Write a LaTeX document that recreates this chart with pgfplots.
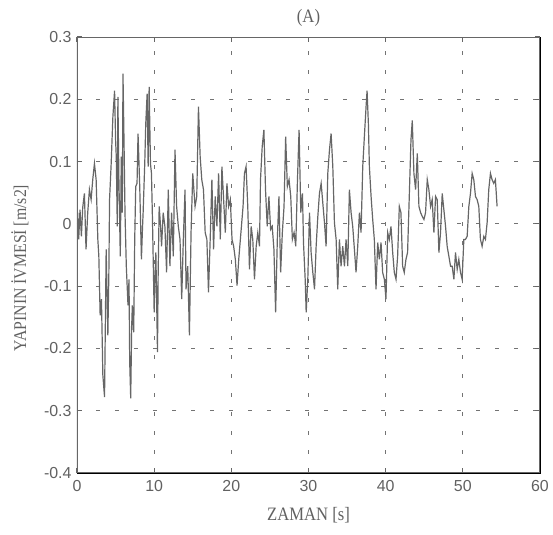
\documentclass[border=0pt]{standalone}
\usepackage{fontspec}
\setmainfont{Liberation Sans}
\newfontfamily\lblfont[FakeStretch=0.88]{Liberation Serif}
\usepackage{pgfplots}
\pgfplotsset{compat=1.18}
\definecolor{sig}{gray}{0.40}
\definecolor{txt}{gray}{0.38}
\definecolor{frame}{gray}{0.40}
\begin{document}
\begin{tikzpicture}
\useasboundingbox (-77bp,-62bp) rectangle (476bp,473bp);
\begin{axis}[
  at={(0,0)}, anchor=south west,
  scale only axis, width=463bp, height=436bp,
  xmin=0, xmax=60, ymin=-0.4, ymax=0.3,
  xtick={0,10,...,60},
  ytick={-0.4,-0.3,-0.2,-0.1,0,0.1,0.2,0.3},
  yticklabels={-0.4,-0.3,-0.2,-0.1,0,0.1,0.2,0.3},
  /pgf/number format/assume math mode=true,
  tick label style={font=\fontsize{16}{18}\selectfont, text=txt},
  xticklabel style={yshift=-4bp},
  yticklabel style={xshift=-2bp},
  tick align=inside, major tick length=5bp,
  tick style={frame, line width=1.2bp},
  grid=major,
  major grid style={black!55, line width=0.8bp, dash pattern=on 4bp off 15bp},
  title={(A)},
  title style={at={(axis description cs:0.5,1)}, anchor=center, yshift=13bp, font=\lblfont\fontsize{19}{21}\selectfont, text=txt},
  xlabel={ZAMAN [s]},
  xlabel style={at={(axis description cs:0.5,0)}, anchor=center, yshift=-42bp, font=\lblfont\fontsize{19}{21}\selectfont, text=txt},
  ylabel={YAPININ İVMESİ [m/s2]},
  ylabel style={at={(axis description cs:-0.123,0.47)}, anchor=center, rotate=0, font=\lblfont\fontsize{18}{20}\selectfont, text=txt},
]
\addplot[sig, line width=1.2bp] coordinates {
(0.09,0.018) (0.22,-0.025) (0.39,0.023) (0.57,-0.02) (0.74,0.026) (0.96,0.049) (1.17,-0.041) (1.39,0.018) (1.61,0.055) (1.83,0.039)
(2.04,0.071) (2.26,0.097) (2.48,0.071) (2.70,-0.025) (2.83,-0.052) (3.0,-0.147) (3.17,-0.121) (3.35,-0.243) (3.57,-0.278) (3.70,-0.131)
(3.78,-0.041) (4.0,-0.179) (4.13,-0.078) (4.22,0.039) (4.43,0.097) (4.65,0.172) (4.87,0.214) (5.0,0.135) (5.09,0.108) (5.22,-0.004)
(5.30,0.204) (5.43,0.071) (5.61,-0.052) (5.74,0.108) (5.87,0.018) (5.96,0.241) (6.09,0.135) (6.22,0.018) (6.39,-0.068) (6.61,-0.131)
(6.74,-0.089) (6.83,-0.222) (6.96,-0.280) (7.09,-0.163) (7.17,-0.131) (7.35,-0.174) (7.48,-0.025) (7.61,0.060) (7.78,0.065) (7.91,0.145)
(8.13,0.060) (8.35,-0.057) (8.48,-0.009) (8.57,0.018) (8.78,0.097) (8.91,0.161) (9.09,0.209) (9.22,0.092) (9.35,0.220) (9.52,0.097)
(9.65,0.081) (9.78,0.007) (10.0,-0.142) (10.13,-0.078) (10.22,-0.046) (10.43,-0.206) (10.52,-0.078) (10.65,0.028) (10.83,-0.004) (10.96,-0.036)
(11.17,0.018) (11.39,-0.004) (11.61,-0.078) (11.83,0.055) (12.04,-0.068) (12.26,0.018) (12.48,-0.052) (12.70,0.119) (12.91,0.028) (13.13,-0.004)
(13.35,-0.025) (13.57,-0.121) (13.78,-0.025) (14.0,0.055) (14.13,-0.105) (14.35,-0.068) (14.57,-0.179) (14.78,-0.014) (15.0,0.081) (15.30,0.028)
(15.52,0.044) (15.74,0.188) (15.96,0.108) (16.17,0.071) (16.39,0.055) (16.61,-0.014) (16.83,-0.025) (17.04,-0.110) (17.26,-0.025) (17.48,0.071)
(17.70,-0.041) (17.91,0.044) (18.13,-0.004) (18.35,0.081) (18.57,-0.025) (18.78,0.092) (19.0,0.039) (19.22,-0.014) (19.43,0.065) (19.65,0.028)
(19.87,0.039) (20.09,-0.025) (20.30,-0.036) (20.52,-0.057) (20.74,-0.099) (20.96,-0.057) (21.17,-0.025) (21.52,0.028) (21.70,0.081) (21.91,0.092)
(22.13,0.028) (22.35,-0.073) (22.57,-0.004) (22.78,-0.025) (23.0,-0.089) (23.22,-0.036) (23.43,-0.014) (23.65,-0.036) (23.78,0.071) (24.0,0.124)
(24.22,0.151) (24.43,0.055) (24.65,-0.004) (24.87,0.044) (25.09,-0.009) (25.30,-0.004) (25.52,-0.041) (25.74,-0.142) (25.96,-0.025) (26.17,0.044)
(26.39,-0.078) (26.61,-0.014) (26.83,0.028) (27.04,0.140) (27.26,0.060) (27.48,0.071) (27.70,0.044) (27.91,-0.025) (28.13,-0.014) (28.35,-0.036)
(28.57,0.071) (28.78,0.151) (29.0,0.018) (29.22,0.049) (29.35,-0.030) (29.57,-0.089) (29.70,-0.142) (29.91,-0.089) (30.13,0.018) (30.34,-0.046)
(30.56,-0.078) (30.78,-0.105) (30.99,-0.036) (31.21,0.012) (31.42,0.049) (31.64,0.065) (31.85,0.034) (32.07,0.002) (32.28,-0.036) (32.50,0.081)
(32.72,0.119) (32.93,0.145) (33.15,0.092) (33.36,0.002) (33.58,-0.025) (33.79,-0.105) (34.01,-0.025) (34.22,-0.068) (34.44,-0.036) (34.66,-0.068)
(34.87,-0.025) (35.09,-0.068) (35.30,0.055) (35.52,0.018) (35.73,-0.004) (35.95,-0.041) (36.16,-0.078) (36.38,-0.036) (36.60,0.018) (36.81,-0.014)
(37.03,0.092) (37.24,0.140) (37.46,0.188) (37.59,0.214) (37.76,0.161) (37.89,0.092) (38.11,0.044) (38.32,0.007) (38.53,-0.025) (38.75,-0.105)
(38.97,-0.030) (39.18,-0.057) (39.40,-0.030) (39.61,-0.078) (39.83,-0.089) (40.04,-0.121) (40.26,-0.014) (40.47,-0.025) (40.69,-0.004) (40.91,-0.046)
(41.12,-0.078) (41.34,-0.089) (41.55,-0.052) (41.77,0.028) (41.98,0.018) (42.20,-0.068) (42.41,-0.078) (42.63,-0.057) (42.84,-0.046) (43.06,0.044)
(43.28,0.135) (43.45,0.166) (43.66,0.081) (43.88,0.055) (44.10,0.113) (44.31,0.028) (44.53,0.018) (44.74,0.012) (44.96,0.007) (45.17,0.018)
(45.39,0.071) (45.60,0.055) (45.82,0.028) (46.03,0.039) (46.25,-0.014) (46.47,0.044) (46.68,0.039) (46.90,-0.046) (47.11,-0.014) (47.33,0.049)
(47.54,0.023) (47.76,-0.004) (47.97,-0.036) (48.19,-0.052) (48.41,-0.068) (48.62,-0.068) (48.84,-0.089) (49.05,-0.046) (49.27,-0.073) (49.48,-0.057)
(49.70,-0.078) (49.91,-0.089) (50.13,-0.025) (50.34,-0.025) (50.56,-0.020) (50.78,0.028) (50.99,0.049) (51.21,0.081) (51.42,0.071) (51.64,0.044)
(51.85,0.039) (52.07,0.028) (52.28,-0.025) (52.50,-0.036) (52.72,-0.020) (52.93,-0.025) (53.15,0.002) (53.36,0.055) (53.58,0.081) (53.79,0.071)
(54.01,0.065) (54.22,0.071) (54.44,0.028)
};
\draw[frame, line width=2.4bp] (rel axis cs:0,0) rectangle (rel axis cs:1,1);
\end{axis}
\end{tikzpicture}
\end{document}
